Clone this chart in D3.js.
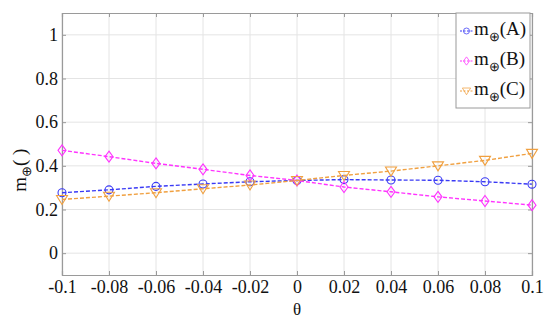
<!DOCTYPE html>
<html>
<head>
<meta charset="utf-8">
<script src="https://cdn.jsdelivr.net/npm/d3@7"></script>
<style>
  body { margin: 0; background: #fff; }
  svg { display: block; }
  svg text { font-family: "Liberation Serif", serif !important; }
</style>
</head>
<body>
<svg id="chart" width="550" height="320"></svg>
<script>
var theta = [-0.1, -0.08, -0.06, -0.04, -0.02, 0, 0.02, 0.04, 0.06, 0.08, 0.1]
var mA = [0.277, 0.290, 0.306, 0.317, 0.327, 0.333, 0.337, 0.335, 0.334, 0.327, 0.316]
var mB = [0.471, 0.442, 0.411, 0.384, 0.356, 0.333, 0.303, 0.281, 0.258, 0.239, 0.220]
var mC = [0.246, 0.261, 0.277, 0.295, 0.312, 0.333, 0.356, 0.376, 0.400, 0.425, 0.457]
var xTicks = [-0.1, -0.08, -0.06, -0.04, -0.02, 0, 0.02, 0.04, 0.06, 0.08, 0.1]
var yTicks = [0, 0.2, 0.4, 0.6, 0.8, 1]
var seriesNames = ["A", "B", "C"]

var series = [
  {name: seriesNames[0], values: mA, color: "#3a3af5", marker: "circle"},
  {name: seriesNames[1], values: mB, color: "#ff33ff", marker: "diamond"},
  {name: seriesNames[2], values: mC, color: "#f0a040", marker: "triangle"}
]

var margin = {left: 62, right: 18, top: 13, bottom: 45}
var width = 550, height = 320
var svg = d3.select("#chart")

var x = d3.scaleLinear().domain([-0.1, 0.1]).range([margin.left, width - margin.right])
var y = d3.scaleLinear().domain([-0.1, 1.1]).range([height - margin.bottom, margin.top])

// grid
svg.append("g").selectAll("line").data(xTicks).join("line")
  .attr("x1", d => x(d)).attr("x2", d => x(d))
  .attr("y1", y(-0.1)).attr("y2", y(1.1))
  .attr("stroke", "#e4e4e4")
svg.append("g").selectAll("line").data(yTicks).join("line")
  .attr("x1", x(-0.1)).attr("x2", x(0.1))
  .attr("y1", d => y(d)).attr("y2", d => y(d))
  .attr("stroke", "#e4e4e4")

// axes
var fmt = d => d === 0 ? "0" : String(d)
var xAxis = svg.append("g").attr("transform", `translate(0,${y(-0.1)})`)
  .call(d3.axisBottom(x).tickValues(xTicks).tickSize(-4).tickPadding(5).tickFormat(fmt))
var yAxis = svg.append("g").attr("transform", `translate(${x(-0.1)},0)`)
  .call(d3.axisLeft(y).tickValues(yTicks).tickSize(-4).tickPadding(4).tickFormat(fmt))
var xAxisTop = svg.append("g").attr("transform", `translate(0,${y(1.1)})`)
  .call(d3.axisTop(x).tickValues(xTicks).tickSize(-4).tickFormat(""))
var yAxisRight = svg.append("g").attr("transform", `translate(${x(0.1)},0)`)
  .call(d3.axisRight(y).tickValues(yTicks).tickSize(-4).tickFormat(""))
;[xAxis, yAxis, xAxisTop, yAxisRight].forEach(g => {
  g.attr("font-size", 18).attr("font-family", "Liberation Serif")
  g.select(".domain").attr("stroke", "#9a9a9a").attr("stroke-width", 1.2)
  g.selectAll(".tick line").attr("stroke", "#9a9a9a")
  g.selectAll("text").attr("fill", "#111")
})

// lines + markers
var line = d3.line().x((d, i) => x(theta[i])).y(d => y(d))
function markerPath(type) {
  if (type === "circle") return d3.symbol(d3.symbolCircle, 50)()
  if (type === "diamond") return "M0,-5.5L4,0L0,5.5L-4,0Z"
  return "M-5.5,-4L5.5,-4L0,5Z"
}
series.forEach(s => {
  svg.append("path").datum(s.values)
    .attr("d", line).attr("fill", "none")
    .attr("stroke", s.color).attr("stroke-width", 1.4)
    .attr("stroke-dasharray", "4,2")
  svg.append("g").selectAll("path").data(s.values).join("path")
    .attr("transform", (d, i) => `translate(${x(theta[i])},${y(d)})`)
    .attr("d", markerPath(s.marker))
    .attr("fill", "none").attr("stroke", s.color).attr("stroke-width", 1.1)
})

// legend
var lg = svg.append("g")
lg.append("rect").attr("x", 456).attr("y", y(1.1)).attr("width", 74).attr("height", 95)
  .attr("fill", "#fff").attr("stroke", "#9a9a9a")
series.forEach((s, i) => {
  var ly = 31 + i * 30
  lg.append("line").attr("x1", 460).attr("x2", 473).attr("y1", ly).attr("y2", ly)
    .attr("stroke", s.color).attr("stroke-dasharray", "2,1.5")
  lg.append("path").attr("transform", `translate(466.5,${ly}) scale(0.75)`)
    .attr("d", markerPath(s.marker)).attr("fill", "none").attr("stroke", s.color)
  var t = lg.append("text").attr("x", 474).attr("y", ly + 4).attr("font-size", 19).attr("fill", "#111")
  t.append("tspan").text("m")
  t.append("tspan").attr("dy", 6).attr("font-size", 13).text("\u2295")
  t.append("tspan").attr("dy", -6).text("(" + s.name + ")")
})

// axis titles
svg.append("text").attr("x", x(0)).attr("y", 315).attr("text-anchor", "middle")
  .attr("font-size", 17).attr("fill", "#111").text("\u03b8")
var yl = svg.append("text").attr("transform", `translate(26,${y(0.38)}) rotate(-90)`)
  .attr("text-anchor", "middle").attr("font-size", 19).attr("fill", "#111")
yl.append("tspan").text("m")
yl.append("tspan").attr("dy", 5).attr("font-size", 13).text("\u2295")
yl.append("tspan").attr("dy", -5).text("( )")

svg.selectAll("text").style("font-family", "Liberation Serif")
</script>
</body>
</html>
